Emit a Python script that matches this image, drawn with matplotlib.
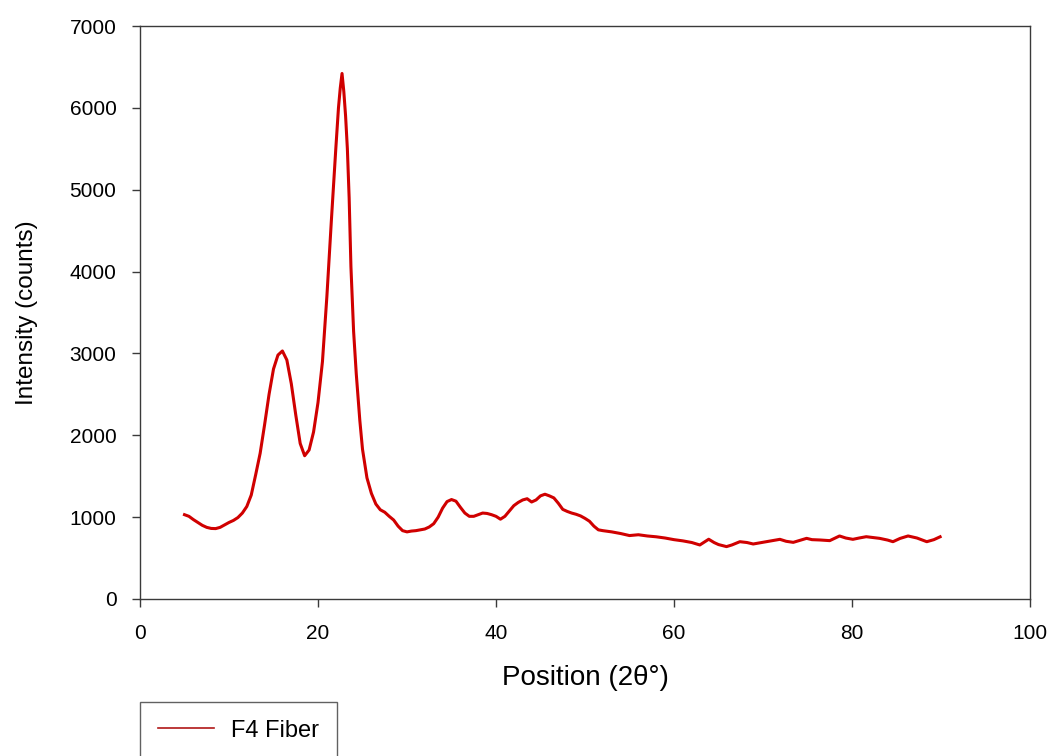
import matplotlib
matplotlib.use("Agg")
import matplotlib.pyplot as plt

plt.rcParams['font.family'] = ['Liberation Sans', 'DejaVu Sans']

two_theta = [5.0, 5.5, 6.0, 6.5, 7.0, 7.5, 8.0, 8.5, 9.0, 9.5, 10.0, 10.5, 11.0, 11.5,
             12.0, 12.5, 13.0, 13.5, 14.0, 14.5, 15.0, 15.5, 16.0, 16.5, 17.0, 17.5,
             18.0, 18.5, 19.0, 19.5, 20.0, 20.5, 21.0, 21.5, 22.0, 22.3, 22.5, 22.7,
             22.9, 23.1, 23.3, 23.5, 23.7, 24.0, 24.3, 24.7, 25.0, 25.5, 26.0, 26.5,
             27.0, 27.5, 28.0, 28.5, 29.0, 29.5, 30.0, 30.5, 31.0, 31.5, 32.0, 32.5,
             33.0, 33.5, 34.0, 34.5, 35.0, 35.5, 36.0, 36.5, 37.0, 37.5, 38.0, 38.5,
             39.0, 39.5, 40.0, 40.5, 41.0, 41.5, 42.0, 42.5, 43.0, 43.5, 44.0, 44.5,
             45.0, 45.5, 46.0, 46.5, 47.0, 47.5, 48.0, 48.5, 49.0, 49.5, 50.0, 50.5,
             51.0, 51.5, 52.0, 53.0, 54.0, 55.0, 56.0, 57.0, 58.0, 59.0, 60.0, 61.0,
             62.0, 62.9, 63.9, 64.5, 65.0, 65.9, 66.5, 67.4, 68.2, 68.9, 70.4, 71.9,
             72.6, 73.4, 74.9, 75.5, 76.4, 77.5, 78.6, 79.3, 80.1, 80.8, 81.6, 83.1,
             84.0, 84.6, 85.4, 86.3, 87.3, 88.4, 89.2, 89.9]
intensity = [1030, 1010, 970, 935, 900, 875, 862, 860, 875, 905, 935, 960, 995, 1050,
             1130, 1270, 1520, 1780, 2130, 2500, 2810, 2980, 3030, 2920, 2630, 2250,
             1900, 1750, 1820, 2040, 2400, 2900, 3700, 4620, 5500, 6000, 6240, 6420,
             6200, 5900, 5500, 4900, 4060, 3270, 2750, 2180, 1830, 1480, 1290, 1160,
             1090, 1060, 1010, 965, 890, 835, 820, 830, 835, 845, 855, 880,
             920, 1000, 1110, 1190, 1215, 1195, 1120, 1050, 1010, 1010, 1030, 1050,
             1045, 1030, 1010, 975, 1010, 1075, 1140, 1180, 1210, 1225, 1185, 1210,
             1260, 1280, 1260, 1235, 1170, 1095, 1070, 1050, 1035, 1015, 985, 950,
             890, 845, 835, 820, 800, 775, 785, 770, 760, 745, 725, 710,
             690, 660, 730, 690, 665, 640, 660, 700, 690, 672, 700, 729,
             705, 692, 741, 725, 721, 713, 770, 745, 729, 745, 761, 741,
             720, 700, 740, 770, 745, 700, 725, 760]

x_ticks = [0, 20, 40, 60, 80, 100]
y_ticks = [0, 1000, 2000, 3000, 4000, 5000, 6000, 7000]
series_label = "F4 Fiber"

fig = plt.figure(figsize=(10.56, 7.56), dpi=100)
ax = fig.add_axes([140/1056, 1 - 599/756, 890/1056, 573/756])

line, = ax.plot(two_theta, intensity, color='#d00000', linewidth=2.2,
                solid_joinstyle='round', label=series_label)

ax.set_xlim(0, 100)
ax.set_ylim(0, 7000)
ax.set_xticks(x_ticks)
ax.set_yticks(y_ticks)

for sp in ax.spines.values():
    sp.set_color('#3a3a3a')
    sp.set_linewidth(1.0)

ax.tick_params(axis='both', direction='out', length=6, width=1.0, color='#3a3a3a',
               labelsize=15, labelcolor='black')
ax.tick_params(axis='x', pad=12)
ax.tick_params(axis='y', pad=11)

ax.set_xlabel("Position (2θ°)", fontsize=20, labelpad=16)
ax.set_ylabel("Intensity (counts)", fontsize=17.5, labelpad=23)

leg = fig.legend(handles=[line], loc='upper left',
                 bbox_to_anchor=(140/1056, 1 - 702/756), borderaxespad=0,
                 fontsize=17, frameon=True, fancybox=False, edgecolor='#3a3a3a',
                 handlelength=2.4, handletextpad=0.7, borderpad=0.75)
leg.get_frame().set_linewidth(1.0)
for lh in leg.get_lines():
    lh.set_linewidth(1.2)
    lh.set_color('#b01818')

fig.savefig("out.png", dpi=100)
